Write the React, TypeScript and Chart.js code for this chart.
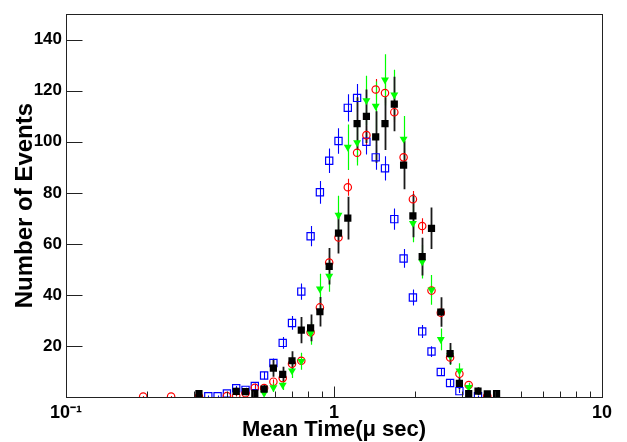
import React, { useEffect, useRef } from "react";
import { Chart, registerables } from "chart.js";

Chart.register(...registerables);

// Bin centres (Mean Time, µs) shared by all four histograms
const binCenters: number[] = [
  0.1941, 0.2103, 0.2278, 0.2467, 0.2673, 0.2895, 0.3134, 0.3396, 0.3678, 0.3985,
  0.4316, 0.4675, 0.5064, 0.5485, 0.5941, 0.6436, 0.6971, 0.7551, 0.8179, 0.8859,
  0.9596, 1.0394, 1.1259, 1.2195, 1.321, 1.4308, 1.5498, 1.6788, 1.8184, 1.9697,
  2.1335, 2.311, 2.5032, 2.7114, 2.937, 3.1813, 3.4459, 3.7325, 4.0429,
];

const blueCounts: (number | null)[] = [
  null, null, null, null, null, null, null, 0.3, 0.3, 1.4,
  3.4, 2.8, 4.3, 8.4, 13.3, 21.2, 29, 41.3, 63, 80.2,
  92.6, 100.3, 113.3, 117.2, 100, 93.9, 89.6, 69.7, 54.3, 39,
  25.7, 17.8, 9.8, 5.5, 2.3, null, 0.3, null, null,
];

const redCounts: (number | null)[] = [
  0.2, null, null, 0.2, null, null, 0.2, null, null, 0.4,
  0.5, 1.5, 3.6, 3.5, 6.0, 7.4, 13, 14.2, 25.4, 35.1,
  52.7, 62.5, 82.2, 95.7, 102.6, 120.5, 119.1, 111.6, 93.9, 77.5,
  67, 41.7, 33, 15.5, 9.1, 4.7, null, 0.4, null,
];

const greenCounts: (number | null)[] = [
  null, null, null, null, null, null, null, null, null, null,
  null, null, null, 1.5, 3.7, 4.7, 10.3, 14, 25, 42.4,
  47.4, 71.3, 97.9, 99.7, 116.2, 114, 124.3, 118.4, 101.1, 68.1,
  53, 42, 22.6, 16.2, 10.3, 3.8, null, null, null,
];

const blackCounts: (number | null)[] = [
  null, null, null, null, null, null, 1.3, null, null, null,
  2.2, 2.1, 1.4, 3.1, 11.3, 8.9, 14.2, 26.2, 27.1, 33.4,
  51.2, 64.2, 70.1, 107.1, 110, 101.9, 107.1, 114.8, 90.9, 71,
  55, 66.1, 33.3, 17, 5.3, 1.3, 2.3, 1.2, 1.3,
];

// relative size of the statistical error bars (× sqrt(N))
const blueErrScale = 0.5;
const redErrScale = 0.37;
const greenErrScale = 0.9;
const blackErrScale = 1.0;

const xTickValues: number[] = [0.1, 1, 10];
const xTickLabels: string[] = ["10\u207B\u00B9", "1", "10"];
const yTickValues: number[] = [20, 40, 60, 80, 100, 120, 140];

const X_TITLE = "Mean Time(\u03BC sec)";
const Y_TITLE = "Number of Events";
const FONT = "'Liberation Sans', Arial, Helvetica, sans-serif";

function toPoints(values: (number | null)[], errScale: number) {
  const pts: { x: number; y: number; err: number }[] = [];
  values.forEach((v, i) => {
    if (v === null) return;
    pts.push({ x: binCenters[i], y: v, err: errScale * Math.sqrt(v) });
  });
  return pts;
}

const errorBarPlugin = {
  id: "errorBars",
  beforeDatasetsDraw(chart: any) {
    const { ctx, chartArea } = chart;
    const xs = chart.scales.x;
    const ys = chart.scales.y;
    ctx.save();
    ctx.beginPath();
    ctx.rect(chartArea.left, chartArea.top, chartArea.right - chartArea.left, chartArea.bottom - chartArea.top);
    ctx.clip();
    const order = [...chart.data.datasets.keys()].sort(
      (a: number, b: number) => chart.data.datasets[b].order - chart.data.datasets[a].order
    );
    order.forEach((i: number) => {
      const ds = chart.data.datasets[i];
      ctx.strokeStyle = ds.errColor;
      ctx.lineWidth = ds.errWidth;
      ds.data.forEach((p: any) => {
        const px = Math.round(xs.getPixelForValue(p.x)) + 0.5;
        const top = ys.getPixelForValue(p.y + p.err);
        const bot = ys.getPixelForValue(Math.max(0, p.y - p.err));
        ctx.beginPath();
        ctx.moveTo(px, top);
        ctx.lineTo(px, bot);
        ctx.stroke();
      });
    });
    ctx.restore();
  },
};

const framePlugin = {
  id: "rootFrame",
  afterDraw(chart: any) {
    const { ctx, chartArea } = chart;
    const xs = chart.scales.x;
    const ys = chart.scales.y;
    const l = Math.round(chartArea.left) + 0.5;
    const r = Math.round(chartArea.right) + 0.5;
    const t = Math.round(chartArea.top) + 0.5;
    const b = Math.round(chartArea.bottom) + 0.5;
    ctx.save();
    ctx.strokeStyle = "#222";
    ctx.lineWidth = 1;
    ctx.strokeRect(l, t, r - l, b - t);
    // x ticks (inside, bottom)
    for (let d = -1; d <= 1; d++) {
      for (let m = 1; m <= 9; m++) {
        const v = m * Math.pow(10, d);
        if (v > 10.0001) break;
        const px = Math.round(xs.getPixelForValue(v)) + 0.5;
        const len = m === 1 ? 11 : 6;
        ctx.beginPath();
        ctx.moveTo(px, b);
        ctx.lineTo(px, b - len);
        ctx.stroke();
      }
    }
    // y ticks (inside, left)
    yTickValues.forEach((v) => {
      const py = Math.round(ys.getPixelForValue(v)) + 0.5;
      ctx.beginPath();
      ctx.moveTo(l, py);
      ctx.lineTo(l + 16, py);
      ctx.stroke();
    });
    ctx.restore();
  },
};

export default function App() {
  const canvasRef = useRef<HTMLCanvasElement | null>(null);

  useEffect(() => {
    if (!canvasRef.current) return;
    const chart = new Chart(canvasRef.current, {
      type: "scatter",
      data: {
        datasets: [
          {
            label: "black",
            data: toPoints(blackCounts, blackErrScale),
            pointStyle: "rect",
            pointRadius: 5.1,
            backgroundColor: "#000000",
            borderColor: "#000000",
            borderWidth: 0,
            order: 0,
            errColor: "#1a1a1a",
            errWidth: 1.8,
          } as any,
          {
            label: "green",
            data: toPoints(greenCounts, greenErrScale),
            pointStyle: "triangle",
            pointRotation: 180,
            pointRadius: 4.6,
            backgroundColor: "#00ff00",
            borderColor: "#00ff00",
            borderWidth: 0,
            order: 1,
            errColor: "#00ff00",
            errWidth: 1.2,
          } as any,
          {
            label: "red",
            data: toPoints(redCounts, redErrScale),
            pointStyle: "circle",
            pointRadius: 3.7,
            backgroundColor: "rgba(0,0,0,0)",
            borderColor: "#ff0000",
            borderWidth: 1.2,
            order: 2,
            errColor: "#ff0000",
            errWidth: 1.1,
          } as any,
          {
            label: "blue",
            data: toPoints(blueCounts, blueErrScale),
            pointStyle: "rect",
            pointRadius: 5.1,
            backgroundColor: "rgba(0,0,0,0)",
            borderColor: "#0000ff",
            borderWidth: 1.2,
            order: 3,
            errColor: "#0000ff",
            errWidth: 1.1,
          } as any,
        ],
      },
      options: {
        responsive: false,
        animation: false,
        devicePixelRatio: 1,
        layout: { padding: { top: 10, right: 25, left: 0, bottom: 0 } },
        plugins: {
          legend: { display: false },
          tooltip: { enabled: false },
        },
        scales: {
          x: {
            type: "logarithmic",
            min: 0.1,
            max: 10,
            afterFit: (scale: any) => {
              scale.height = 45;
            },
            afterBuildTicks: (axis: any) => {
              axis.ticks = xTickValues.map((v) => ({ value: v }));
            },
            grid: { display: false, drawTicks: false },
            border: { display: false },
            ticks: {
              autoSkip: false,
              maxRotation: 0,
              padding: 5,
              color: "#000",
              font: { family: FONT, size: 18, weight: "bold" },
              callback: (value: any) => {
                const idx = xTickValues.findIndex((v) => Math.abs(v - Number(value)) < 1e-9);
                return idx >= 0 ? xTickLabels[idx] : "";
              },
            },
            title: {
              display: true,
              text: X_TITLE,
              color: "#000",
              font: { family: FONT, size: 22, weight: "bold", lineHeight: 1 },
              padding: { top: 0, bottom: 1 },
            },
          },
          y: {
            type: "linear",
            min: 0,
            max: 150,
            afterFit: (scale: any) => {
              scale.width = 66;
            },
            afterBuildTicks: (axis: any) => {
              axis.ticks = yTickValues.map((v) => ({ value: v }));
            },
            grid: { display: false, drawTicks: false },
            border: { display: false },
            ticks: {
              autoSkip: false,
              padding: 4,
              color: "#000",
              font: { family: FONT, size: 17, weight: "bold" },
              callback: (value: any) => String(value),
            },
            title: {
              display: true,
              text: Y_TITLE,
              color: "#000",
              font: { family: FONT, size: 24, weight: "bold", lineHeight: 1 },
              padding: { top: 13, bottom: 0 },
            },
          },
        },
      },
      plugins: [errorBarPlugin, framePlugin],
    });
    return () => chart.destroy();
  }, []);

  return (
    <canvas
      ref={canvasRef}
      width={627}
      height={442}
      style={{ position: "fixed", left: 0, top: 0, display: "block" }}
    />
  );
}
